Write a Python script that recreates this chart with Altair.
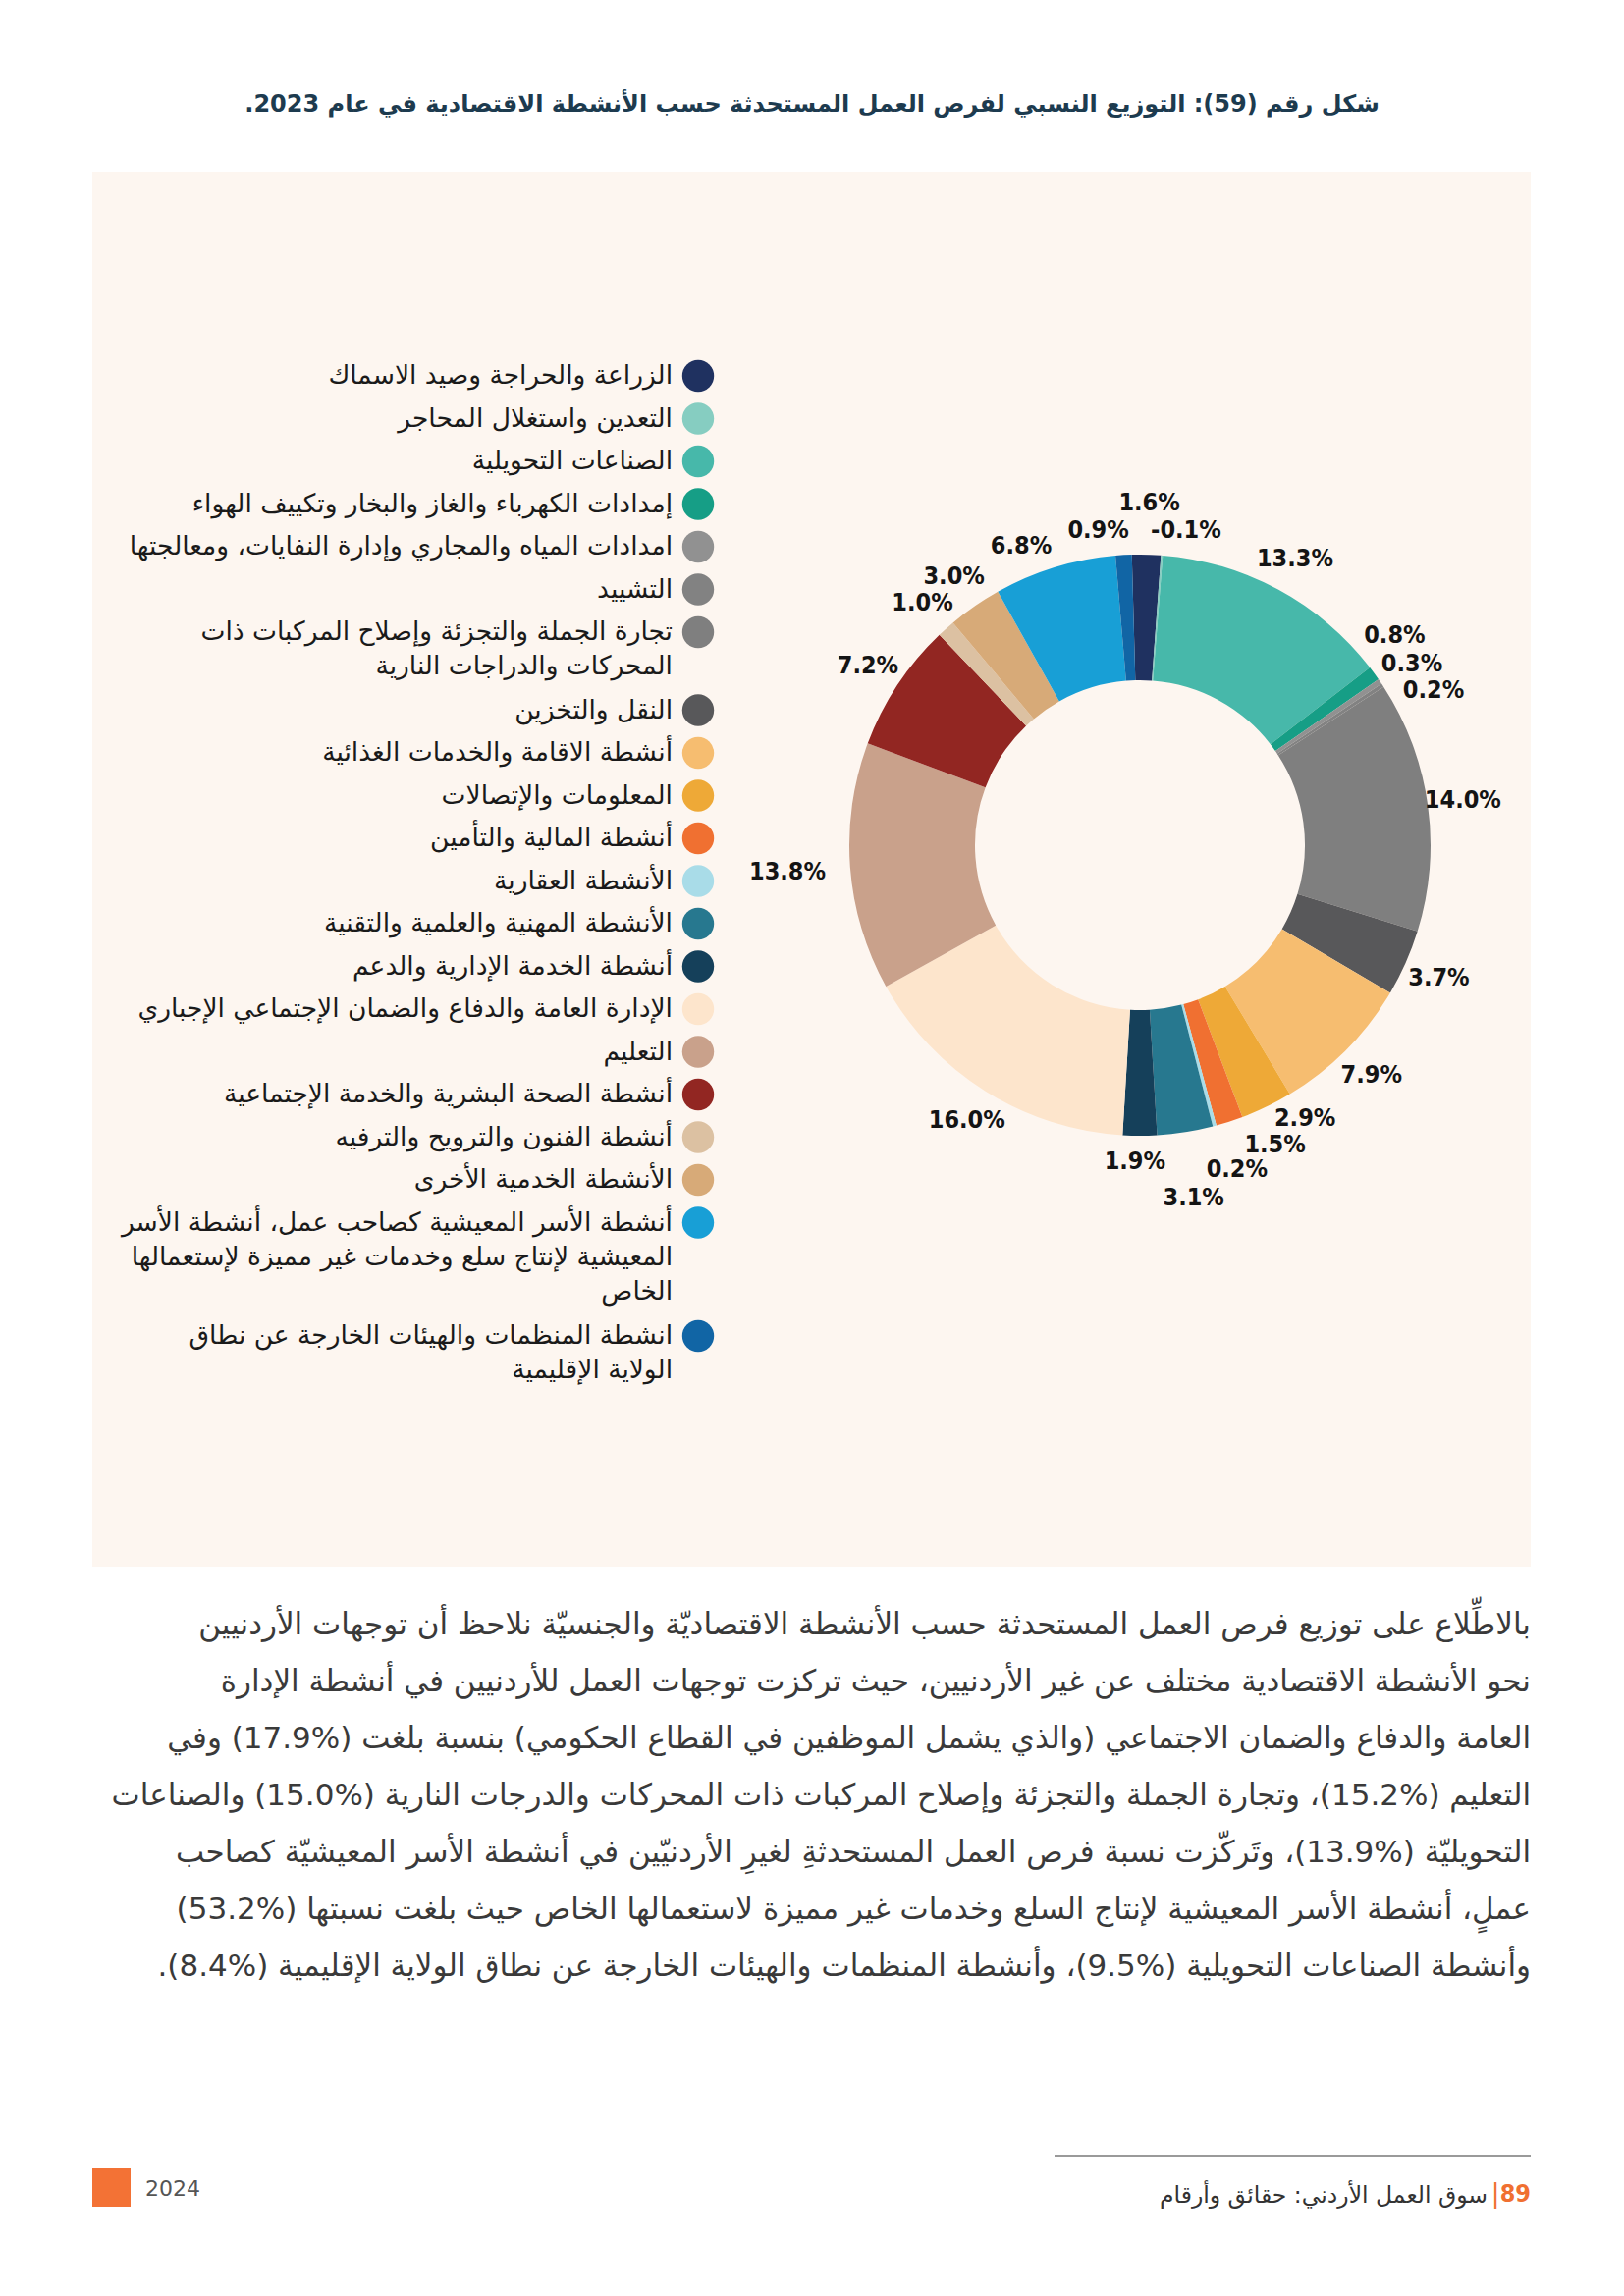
import math
import altair as alt
import pandas as pd

RLM = "\u200f"

# ---------------- data ----------------
categories = [
    "الزراعة والحراجة وصيد الاسماك",
    "التعدين واستغلال المحاجر",
    "الصناعات التحويلية",
    "إمدادات الكهرباء والغاز والبخار وتكييف الهواء",
    "امدادات المياه والمجاري وإدارة النفايات، ومعالجتها",
    "التشييد",
    "تجارة الجملة والتجزئة وإصلاح المركبات ذات المحركات والدراجات النارية",
    "النقل والتخزين",
    "أنشطة الاقامة والخدمات الغذائية",
    "المعلومات والإتصالات",
    "أنشطة المالية والتأمين",
    "الأنشطة العقارية",
    "الأنشطة المهنية والعلمية والتقنية",
    "أنشطة الخدمة الإدارية والدعم",
    "الإدارة العامة والدفاع والضمان الإجتماعي الإجباري",
    "التعليم",
    "أنشطة الصحة البشرية والخدمة الإجتماعية",
    "أنشطة الفنون والترويح والترفيه",
    "الأنشطة الخدمية الأخرى",
    "أنشطة الأسر المعيشية كصاحب عمل، أنشطة الأسر المعيشية لإنتاج سلع وخدمات غير مميزة لإستعمالها الخاص",
    "انشطة المنظمات والهيئات الخارجة عن نطاق الولاية الإقليمية",
]

legend_lines = [
    ["الزراعة والحراجة وصيد الاسماك"],
    ["التعدين واستغلال المحاجر"],
    ["الصناعات التحويلية"],
    ["إمدادات الكهرباء والغاز والبخار وتكييف الهواء"],
    ["امدادات المياه والمجاري وإدارة النفايات، ومعالجتها"],
    ["التشييد"],
    ["تجارة الجملة والتجزئة وإصلاح المركبات ذات", "المحركات والدراجات النارية"],
    ["النقل والتخزين"],
    ["أنشطة الاقامة والخدمات الغذائية"],
    ["المعلومات والإتصالات"],
    ["أنشطة المالية والتأمين"],
    ["الأنشطة العقارية"],
    ["الأنشطة المهنية والعلمية والتقنية"],
    ["أنشطة الخدمة الإدارية والدعم"],
    ["الإدارة العامة والدفاع والضمان الإجتماعي الإجباري"],
    ["التعليم"],
    ["أنشطة الصحة البشرية والخدمة الإجتماعية"],
    ["أنشطة الفنون والترويح والترفيه"],
    ["الأنشطة الخدمية الأخرى"],
    ["أنشطة الأسر المعيشية كصاحب عمل، أنشطة الأسر",
     "المعيشية لإنتاج سلع وخدمات غير مميزة لإستعمالها",
     "الخاص"],
    ["انشطة المنظمات والهيئات الخارجة عن نطاق", "الولاية الإقليمية"],
]

values = [1.6, -0.1, 13.3, 0.8, 0.3, 0.2, 14.0, 3.7, 7.9, 2.9, 1.5,
          0.2, 3.1, 1.9, 16.0, 13.8, 7.2, 1.0, 3.0, 6.8, 0.9]

colors = ["#1f3160", "#86cdc1", "#47b8aa", "#169e86", "#919191", "#828282",
          "#7f7f7f", "#58585a", "#f6bd70", "#eea937", "#f07031", "#a9dce8",
          "#27788f", "#15405a", "#fde5cc", "#c9a18b", "#922622", "#dcc1a2",
          "#d7aa78", "#189fd6", "#1165a5"]

# label placement tweaks (degrees added to slice middle, radius in px)
label_nudge_deg = [0.3, 4.0, 0, -3.2, 0.6, 5.6, 0, 0, 0, -5.3, -6.3,
                   -1.8, 0.3, 0.9, 0, 0, 0, 0, 0, -4.6, -4.3]
label_radius = [349, 324, 332, 336, 333, 338, 332, 333, 332, 325, 335,
                344, 363, 322, 331, 360, 332, 332, 333, 328, 324]

title_text = "شكل رقم (59): التوزيع النسبي لفرص العمل المستحدثة حسب الأنشطة الاقتصادية في عام 2023."

# percent signs written before the number so they display as (17.9%) in RTL
paragraph_lines = [
    "بالاطِّلاع على توزيع فرص العمل المستحدثة حسب الأنشطة الاقتصاديّة والجنسيّة نلاحظ أن توجهات الأردنيين",
    "نحو الأنشطة الاقتصادية مختلف عن غير الأردنيين، حيث تركزت توجهات العمل للأردنيين في أنشطة الإدارة",
    "العامة والدفاع والضمان الاجتماعي (والذي يشمل الموظفين في القطاع الحكومي) بنسبة بلغت (%17.9) وفي",
    "التعليم (%15.2)، وتجارة الجملة والتجزئة وإصلاح المركبات ذات المحركات والدرجات النارية (%15.0) والصناعات",
    "التحويليّة (%13.9)، وتَركّزت نسبة فرص العمل المستحدثةِ لغيرِ الأردنيّين في أنشطة الأسر المعيشيّة كصاحب",
    "عملٍ، أنشطة الأسر المعيشية لإنتاج السلع وخدمات غير مميزة لاستعمالها الخاص حيث بلغت نسبتها (%53.2)",
    "وأنشطة الصناعات التحويلية (%9.5)، وأنشطة المنظمات والهيئات الخارجة عن نطاق الولاية الإقليمية (%8.4).",
]

footer_year = "2024"
footer_page = "89"
footer_title = "سوق العمل الأردني: حقائق وأرقام"

# ---------------- layout (chart coords = page coords - 8) ----------------
W, H = 1638, 2323
CX, CY = 1153, 853
R_IN, R_OUT = 168, 296
OFFSET = math.radians(-1.6)
AR_FONT = "DejaVu Sans"
NUM_FONT = "DejaVu Sans Condensed, Liberation Sans Narrow, Liberation Sans"

def rtl(s):
    return RLM + s + RLM

# slices
draw = [abs(v) for v in values]
total = sum(draw)
rows = []
cum = 0.0
for i, (c, v, d) in enumerate(zip(categories, values, draw)):
    mid = cum + d / 2
    cum += d
    ang = OFFSET + mid / total * 2 * math.pi + math.radians(label_nudge_deg[i])
    rows.append(dict(idx=i, cat=c, value=v, draw=d, lab=f"{v:.1f}%",
                     lt=ang, lr=label_radius[i]))
slices = pd.DataFrame(rows)

color_scale = alt.Scale(domain=categories, range=colors)

arcs = alt.Chart(slices).mark_arc(innerRadius=R_IN, outerRadius=R_OUT).encode(
    x=alt.value(CX), y=alt.value(CY),
    theta=alt.Theta("draw:Q", stack=True,
                    scale=alt.Scale(range=[OFFSET, OFFSET + 2 * math.pi])),
    order=alt.Order("idx:Q"),
    color=alt.Color("cat:N", scale=color_scale, legend=None),
)

labels = alt.Chart(slices).mark_text(
    font=NUM_FONT, fontWeight="bold", fontSize=25, color="#141414",
    align="center", baseline="middle",
).encode(
    x=alt.value(CX), y=alt.value(CY),
    theta=alt.Theta("lt:Q", scale=None, stack=None),
    radius=alt.Radius("lr:Q", scale=None),
    text="lab:N",
)

# legend (manual, right-to-left)
LEG_Y0, LEG_STEP, LEG_EXTRA, LEG_LH = 383 - 8, 43.5, 36, 35
leg_rows, leg_txt = [], []
y = LEG_Y0
for i, lines in enumerate(legend_lines):
    leg_rows.append(dict(idx=i, cat=categories[i], ly=y))
    for j, ln in enumerate(lines):
        leg_txt.append(dict(t=rtl(ln), ty=y + j * LEG_LH))
    y += LEG_STEP + LEG_EXTRA * (len(lines) - 1)
leg_df = pd.DataFrame(leg_rows)
leg_txt_df = pd.DataFrame(leg_txt)

legend_dots = alt.Chart(leg_df).mark_circle(size=1050, opacity=1).encode(
    x=alt.value(711 - 8),
    y=alt.Y("ly:Q", scale=None),
    color=alt.Color("cat:N", scale=color_scale, legend=None),
)
legend_text = alt.Chart(leg_txt_df).mark_text(
    font=AR_FONT, fontSize=26.5, color="#1a1a1a", align="right", baseline="middle",
).encode(
    x=alt.value(685 - 8),
    y=alt.Y("ty:Q", scale=None),
    text="t:N",
)

# panel background
one = pd.DataFrame({"a": [0]})
panel = alt.Chart(one).mark_rect(color="#fdf6f0").encode(
    x=alt.value(94 - 8), x2=alt.value(1559 - 8),
    y=alt.value(175 - 8), y2=alt.value(1596 - 8),
)

title = alt.Chart(pd.DataFrame({"t": [rtl(title_text)]})).mark_text(
    font=AR_FONT, fontSize=24, fontWeight="bold", color="#1d3b4f",
    align="center", baseline="middle",
).encode(x=alt.value(827 - 8), y=alt.value(107 - 8), text="t:N")

para_df = pd.DataFrame({
    "t": [rtl(s) for s in paragraph_lines],
    "py": [1656 - 8 + 58 * i for i in range(len(paragraph_lines))],
})
para = alt.Chart(para_df).mark_text(
    font=AR_FONT, fontSize=31, color="#3a3a3a", align="right", baseline="middle",
).encode(x=alt.value(1559 - 8), y=alt.Y("py:Q", scale=None), text="t:N")

# footer
footer_rule = alt.Chart(one).mark_rule(color="#9a9a9a", strokeWidth=2).encode(
    x=alt.value(1074 - 8), x2=alt.value(1559 - 8), y=alt.value(2196 - 8))
footer_sq = alt.Chart(one).mark_rect(color="#f37235").encode(
    x=alt.value(94 - 8), x2=alt.value(133 - 8),
    y=alt.value(2209 - 8), y2=alt.value(2248 - 8))
footer_year_t = alt.Chart(pd.DataFrame({"t": [footer_year]})).mark_text(
    font=AR_FONT, fontSize=22, color="#555555", align="left", baseline="middle",
).encode(x=alt.value(148 - 8), y=alt.value(2230 - 8), text="t:N")
footer_page_t = alt.Chart(pd.DataFrame({"t": [footer_page]})).mark_text(
    font=NUM_FONT, fontSize=25, fontWeight="bold", color="#f07031",
    align="right", baseline="middle",
).encode(x=alt.value(1559 - 8), y=alt.value(2235 - 8), text="t:N")
footer_bar = alt.Chart(pd.DataFrame({"t": ["|"]})).mark_text(
    font=AR_FONT, fontSize=26, color="#f07031", align="center", baseline="middle",
).encode(x=alt.value(1523 - 8), y=alt.value(2235 - 8), text="t:N")
footer_title_t = alt.Chart(pd.DataFrame({"t": [rtl(footer_title)]})).mark_text(
    font=AR_FONT, fontSize=23.5, color="#333333", align="right", baseline="middle",
).encode(x=alt.value(1515 - 8), y=alt.value(2237 - 8), text="t:N")

chart = alt.layer(
    panel, arcs, labels, legend_dots, legend_text, title, para,
    footer_rule, footer_sq, footer_year_t, footer_page_t, footer_bar, footer_title_t,
).properties(
    width=W, height=H, autosize="none", padding=0, background="white",
).configure_view(stroke=None)

chart.save("out.html", embed_options={"renderer": "svg", "actions": False})
